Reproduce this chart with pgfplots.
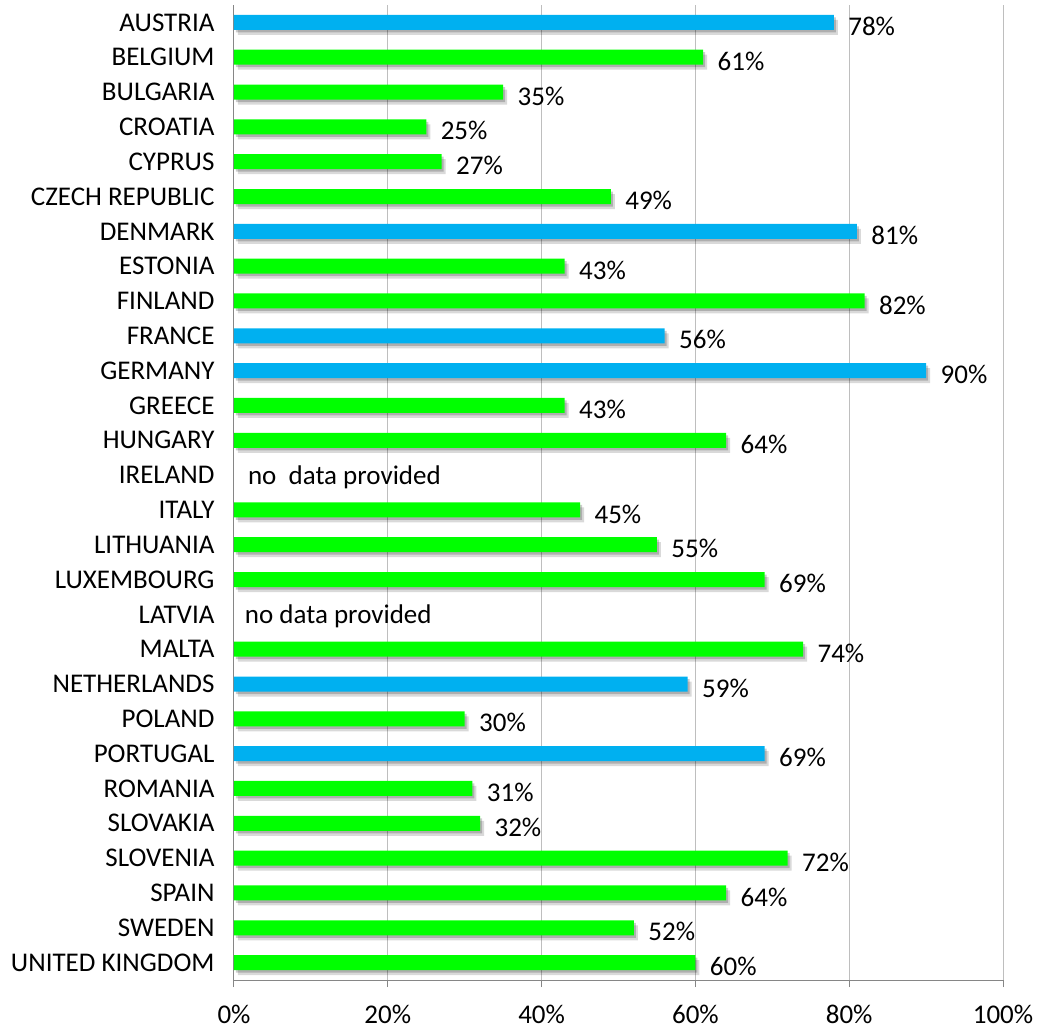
\documentclass[border=0pt]{standalone}
\usepackage{pgfplots}
\pgfplotsset{compat=1.18}
\usepackage{fontspec}
\setmainfont{Carlito}
\definecolor{cblue}{HTML}{00B0F0}
\definecolor{cgreen}{HTML}{00FF00}
\definecolor{axgray}{HTML}{868686}
\definecolor{grgray}{HTML}{BEBEBE}
\begin{document}
\begin{tikzpicture}[font=\fontsize{27}{32}\selectfont]
\useasboundingbox (0,0) rectangle (1047pt,1031pt);
\begin{axis}[
  at={(234pt,51pt)}, anchor=south west,
  scale only axis, width=769pt, height=975pt,
  /pgf/number format/assume math mode=true,
  xmin=0, xmax=100, ymin=-0.5, ymax=27.5, y dir=reverse,
  xtick={0,20,40,60,80,100},
  xticklabels={0\%,20\%,40\%,60\%,80\%,100\%},
  ytick={0,...,27},
  yticklabels={AUSTRIA,BELGIUM,BULGARIA,CROATIA,CYPRUS,CZECH REPUBLIC,DENMARK,ESTONIA,FINLAND,FRANCE,GERMANY,GREECE,HUNGARY,IRELAND,ITALY,LITHUANIA,LUXEMBOURG,LATVIA,MALTA,NETHERLANDS,POLAND,PORTUGAL,ROMANIA,SLOVAKIA,SLOVENIA,SPAIN,SWEDEN,UNITED KINGDOM},
  extra y ticks={-0.5,0.5,...,27.5}, extra y tick labels={},
  extra y tick style={major tick length=7pt, tick style={axgray, line width=1pt}, grid=none},
  ytick style={draw=none},
  xtick style={axgray, line width=1pt},
  tick align=outside, major tick length=7pt,
  axis x line*=bottom, axis y line*=left,
  axis line style={axgray, line width=1pt, -},
  xmajorgrids, major grid style={grgray, line width=1pt},
  tick label style={font=\fontsize{27}{32}\selectfont, text=black},
  yticklabel style={xshift=-9pt},
  xticklabel style={yshift=-15pt},
  xbar, bar width=15pt, bar shift=0pt,
  clip=false,
]
% shadows
\addplot[xbar, draw=none, fill=black, fill opacity=0.15, xshift=4pt, yshift=-5pt, forget plot] coordinates {
(78,0) (61,1) (35,2) (25,3) (27,4) (49,5) (81,6) (43,7) (82,8) (56,9) (90,10) (43,11) (64,12) (45,14) (55,15) (69,16) (74,18) (59,19) (30,20) (69,21) (31,22) (32,23) (72,24) (64,25) (52,26) (60,27)};
\addplot[xbar, draw=none, fill=black, fill opacity=0.2, xshift=2pt, yshift=-2.5pt, forget plot] coordinates {
(78,0) (61,1) (35,2) (25,3) (27,4) (49,5) (81,6) (43,7) (82,8) (56,9) (90,10) (43,11) (64,12) (45,14) (55,15) (69,16) (74,18) (59,19) (30,20) (69,21) (31,22) (32,23) (72,24) (64,25) (52,26) (60,27)};
% blue
\addplot[xbar, draw=none, fill=cblue,
  nodes near coords={\pgfmathprintnumber[fixed,precision=0]{\pgfplotspointmeta}\%},
  nodes near coords style={anchor=west, xshift=11pt, yshift=-4pt, text=black, font=\fontsize{27}{32}\selectfont}]
 coordinates {(78,0) (81,6) (56,9) (90,10) (59,19) (69,21)};
% green
\addplot[xbar, draw=none, fill=cgreen,
  nodes near coords={\pgfmathprintnumber[fixed,precision=0]{\pgfplotspointmeta}\%},
  nodes near coords style={anchor=west, xshift=11pt, yshift=-4pt, text=black, font=\fontsize{27}{32}\selectfont}]
 coordinates {(61,1) (35,2) (25,3) (27,4) (49,5) (43,7) (82,8) (43,11) (64,12) (45,14) (55,15) (69,16) (74,18) (30,20) (31,22) (32,23) (72,24) (64,25) (52,26) (60,27)};
\node[anchor=west, inner sep=0pt, yshift=-2pt] at (axis cs:1.8,13) {no\ \ data provided};
\node[anchor=west, inner sep=0pt, yshift=-2pt] at (axis cs:1.4,17) {no data provided};
\end{axis}
\end{tikzpicture}
\end{document}
